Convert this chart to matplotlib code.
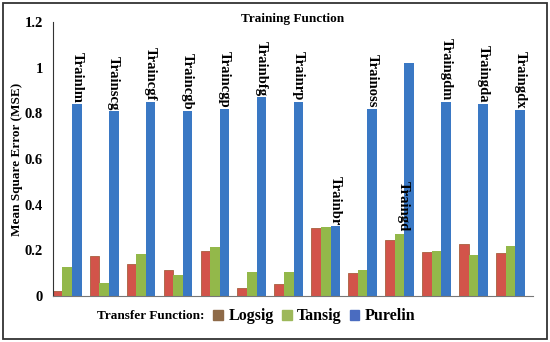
import numpy as np
import matplotlib
matplotlib.use("Agg")
import matplotlib.pyplot as plt
from matplotlib.patches import Rectangle, Patch

plt.rcParams['font.family'] = ['Liberation Serif', 'DejaVu Serif']
plt.rcParams['font.weight'] = 'bold'

funcs = ["Trainlm", "Trainscg", "Traincgf", "Traincgb", "Traincgp", "Trainbfg", "Trainrp",
         "Trainbr", "Trainoss", "Traingd", "Traingdm", "Traingda", "Traingdx"]
logsig = [0.02, 0.175, 0.14, 0.115, 0.197, 0.035, 0.053, 0.297, 0.10, 0.244, 0.193, 0.228, 0.188]
tansig = [0.128, 0.057, 0.185, 0.093, 0.213, 0.105, 0.104, 0.300, 0.115, 0.273, 0.197, 0.178, 0.22]
purelin = [0.84, 0.81, 0.85, 0.81, 0.82, 0.87, 0.85, 0.305, 0.82, 1.02, 0.85, 0.84, 0.815]
yticks = [0, 0.2, 0.4, 0.6, 0.8, 1, 1.2]

fig = plt.figure(figsize=(5.5, 3.42), dpi=100)
ax = fig.add_axes([0.096, 0.1345, 0.873, 0.8012])

x = np.arange(len(funcs))
w = 0.26
ax.bar(x - w, logsig, w, color='#D2544A', edgecolor='#A8603E', linewidth=0.6)
ax.bar(x, tansig, w, color='#93B84A', linewidth=0)
ax.bar(x + w, purelin, w, color='#3A78C4', linewidth=0)

# labels over the bars, read top to bottom
for i, name in enumerate(funcs):
    if name == "Traingd":
        xl, yl = x[i] + 0.1, tansig[i] + 0.01
    else:
        xl, yl = x[i] + w, purelin[i] + 0.005
    ax.text(xl, yl, name, rotation=270, ha='center', va='bottom',
            fontsize=10.5, fontweight='bold')

ax.set_xlim(-0.39, 12.61)
ax.set_ylim(0, 1.2)
ax.set_yticks(yticks)
ax.set_yticklabels([f"{v:g}" for v in yticks], fontsize=10.5, fontweight='bold')
ax.set_xticks([])
ax.tick_params(axis='y', length=0, pad=7)
ax.spines['top'].set_visible(False)
ax.spines['right'].set_visible(False)
ax.spines['left'].set_color('#333333')
ax.spines['bottom'].set_color('#777777')
ax.set_ylabel("Mean Square Error (MSE)", fontsize=9.5, fontweight='bold')
ax.yaxis.set_label_coords(-0.062, 0.5)
ax.text(0.5, 1.01, "Training Function", transform=ax.transAxes, ha='center', va='center',
        fontsize=9.5, fontweight='bold')

fig.text(0.176, 0.075, "Transfer Function:", ha='left', va='center', fontsize=9.5, fontweight='bold')
handles = [Patch(color='#8E6A48', label='Logsig'),
           Patch(color='#9DB85A', label='Tansig'),
           Patch(color='#4A6CC0', label='Purelin')]
fig.legend(handles=handles, loc='center left', bbox_to_anchor=(0.362, 0.075), ncol=3,
           frameon=False, handlelength=0.6, handleheight=0.6,
           handletextpad=0.35, columnspacing=0.5,
           prop={'family': 'Liberation Serif', 'weight': 'bold', 'size': 11.5})

fig.patches.append(Rectangle((0.006, 0.01), 0.988, 0.98, transform=fig.transFigure,
                             fill=False, edgecolor='#333333', linewidth=1.3))

fig.savefig("out.png", dpi=100)
